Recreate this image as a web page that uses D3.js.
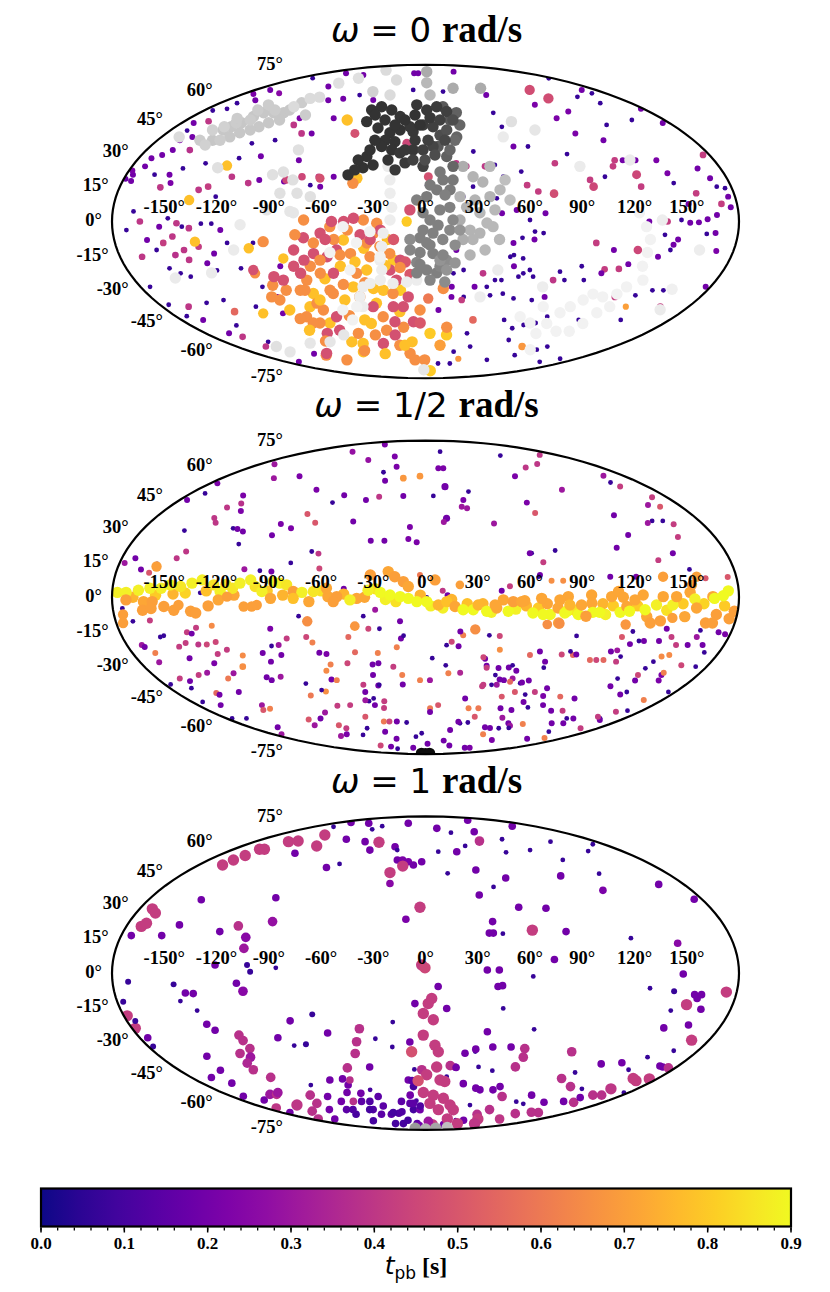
<!DOCTYPE html>
<html><head><meta charset="utf-8">
<script src="https://cdn.jsdelivr.net/npm/d3@7"></script>
<style>body{margin:0;background:#fff}svg{display:block}</style>
</head><body>
<svg id="chart" width="830" height="1292"></svg>
<script>
// ---------------- data ----------------
const omegaLabels = ["0", "1/2", "1"];
const latTicks = [75, 60, 45, 30, 15, 0, -15, -30, -45, -60, -75];
const lonTicks = [-150, -120, -90, -60, -30, 0, 30, 60, 90, 120, 150];
const cbarTicks = [0, 0.1, 0.2, 0.3, 0.4, 0.5, 0.6, 0.7, 0.8, 0.9];
const tMax = 0.9;

// [lon, lat, t_pb, m]  (m: relative marker magnitude)
const p1Points = [
[-140,80,.2,1.5],[-100,78.5,.2,1.5],[-160,76,.07,1],[-110,70,.2,1.5],[-170,65,.22,1.5],[-164,67.6,.2,1.5],[-146,65.4,.25,1.5],[-165,59.3,.07,1],[-154,61,.2,1.5],[-164,56,.08,1],[-173,55,.07,1],[-162,49,.4,1.8],[-171,48,.2,1.5],[-168,44,.07,1],[-159,40.7,.2,1.5],[-165,39,.22,1.5],[-152,34,.38,1.8],[-163,34,.2,1.5],[-167,31.6,.2,1.5],[-172,30,.2,1.5],[-176,22,.2,1.5],[-178,24,.22,1.5],[-175,19,.2,1.5],[-179,20,.18,1.5],[-172,26,.2,1.5],[-163,22,.07,1],[-154,22,.2,1.5],[-151,18,.22,1.5],[-156,16,.4,1.8],[-148,25,.07,1],[-136,27.5,.07,1],[-133,14.8,.4,1.8],[-128,16.3,.42,1.8],[-122,11.6,.07,1],[-116,21,.4,1.8],[-117,30,.07,1],[-104,31,.2,1.5],[-115,37.4,.07,1],[-101,39,.07,1],[-86,42.5,.4,1.8],[-96,47,.4,1.8],[-79,42.5,.2,1.5],[-96,50.6,.22,1.5],[-70,50.6,.2,1.5],[-88,61,.2,1.5],[-76,62,.2,1.5],[-99,19.5,.2,1.5],[-105,18,.4,1.8],[-84,18.7,.2,1.5],[-79,29,.2,1.5],[-64,21,.42,1.8],[-62,16.3,.2,1.5],[-55,21,.2,1.5],[-42,30,.2,1.5],[-68,17,.07,1],
[-168,4.7,.07,1],[-164,0,.4,1.8],[-172,-4,.07,1],[-161,-8.6,.2,1.5],[-167,-16.5,.4,1.8],[-153,-2.4,.2,1.5],[-148,1.5,.07,1],[-143,-0.8,.4,1.8],[-140,-2.4,.07,1],[-136,-3.1,.4,1.8],[-152,-10,.42,1.8],[-157,-13.3,.07,1],[-146,-7,.4,1.8],[-141,-13.3,.4,1.8],[-147,-15.7,.38,1.8],[-140,-18,.4,1.8],[-154,-22,.07,1],[-149,-24.4,.07,1],[-144,-26,.07,1],[-129,-1,.07,1],[-123,-1,.07,1],[-118,-4,.2,1.5],[-115,-10,.07,1],[-124,-15,.2,1.5],[-126,-23,.07,1],[-130,-19.6,.2,1.5],[-132,-11.8,.42,1.8],[-174,-31,.07,1],[-174,-40,.07,1],[-162,-41,.4,1.8],[-147,-39,.07,1],[-172,-46,.07,1],[-164,-48,.2,1.5],[-134,-37.6,.07,1],[-145,-51,.07,1],[-134,-43.6,.55,2.2],[-161,-55.5,.2,1.5],[-155,-57.5,.4,1.8],[-100,-10,.07,1],[-111,-22,.07,1],[-103,-31,.07,1],[-97,-36,.2,1.5],[-116,-41,.07,1],[-141,-60.5,.07,1],[-101,-44.5,.2,1.5],[-152,-63.4,.4,1.8],[-87,-21,.2,1.5],[-163,-73.7,.2,1.5],[-119,-68,.2,1.5],
[1,17,.07,1],[19,27.5,.4,1.8],[25,26,.4,1.8],[22,11.6,.07,1],[28,16.3,.07,1],[36.5,26,.4,1.8],[18,-13.3,.2,1.5],[17,-24.4,.07,1],[23,-22.8,.07,1],[16.6,-31,.2,1.5],[17,-36,.2,1.5],[25,-36,.07,1],[31,-31,.2,1.5],[35,-24.4,.4,1.8],[35,-48,.55,2.2],[34,-55.5,.07,1],[29,-66.7,.07,1],[17,-75,.07,1],[42.5,-63.4,.07,1],[75,-72.3,.07,1],[9,-42.7,.2,1.5],[58,-48,.07,1],[73,-59.4,.07,1],[92,-63.4,.68,2.2],[53,-21,.2,1.5],[59.5,-24.4,.07,1],[47,-27.7,.07,1],[58,-36.8,.07,1],[70.5,-37.6,.07,1],[78,-36,.2,1.5],[79,-27.7,.4,1.8],[81.5,-23.6,.07,1],[51,-10,.2,1.5],[56,-7.6,.07,1],[63,-8.4,.2,1.5],[63,-4.7,.07,1],[68,-5.4,.07,1],[60,0.7,.07,1],[69,3.8,.2,1.5],[52,-15.7,.07,1],[63,-22.8,.07,1],[60,17,.42,1.8],[66,14,.42,1.8],[75,13,.47,2.5],[80,27.5,.42,1.8],[57.5,35.8,.2,1.5],[55,46,.07,1],[54,53.7,.07,1],[59,64.3,.2,1.5],[94,58.3,.22,1.5],[100,50.6,.22,1.5],[115,54.4,.22,1.5],[110,67.6,.47,3],[114,62.2,.47,3],[174,75.9,.07,1],
[144,63.2,.07,1],[165,67.6,.2,1.5],[153,59.3,.07,1],[166,65.4,.07,1],[104,42.5,.22,1.5],[132,47,.07,1],[119.5,39,.2,1.5],[155.5,49.7,.07,1],[178,56,.2,1.5],[175,48,.2,1.5],[90,32,.07,1],[107.5,21,.07,1],[115,26,.42,1.8],[118,29,.42,1.8],[98,19.5,.42,1.8],[99,16.3,.45,2.5],[127,22,.45,2.6],[127,16.3,.42,1.8],[123,29,.2,1.5],[131,29,.2,1.5],[144,29,.22,1.5],[146,22.7,.22,1.5],[147,18,.07,1],[166,25,.2,1.5],[176,31.6,.42,1.8],[170,20.3,.2,1.5],[171.5,16.3,.07,1],[176,15.6,.07,1],[176,11.6,.2,1.5],[176,6.6,.2,1.5],[171,8.2,.42,1.8],[167.5,3,.2,1.5],[158,13.2,.42,1.8],[152,8.2,.2,1.5],[152,-0.6,.2,1.5],[157,-0.4,.2,1.5],[162,1,.2,1.5],[167,-5.4,.2,1.5],[162,-5.8,.07,1],[170,-13.8,.22,1.5],[146,-8.4,.2,1.5],[144,-10.8,.2,1.5],[143,-13.3,.07,1],[137,-16.5,.2,1.5],[138,-6.2,.07,1],[139,0,.42,1.8],[128.5,0,.2,1.5],[124,-13.3,.45,2.5],[110,-13.3,.2,1.5],[99,-10,.42,1.8],[121,-20,.2,1.5],[116.5,-22.3,.42,1.8],[108,-22.5,.42,1.8],[107,-24.4,.2,1.5],[93.6,-21,.07,1],[86,-27.7,.07,1],[98,-27.7,.07,1],[124,-36,.42,1.8],[136.6,-35.2,.07,1],[145,-32.7,.07,1],[152,-32.7,.07,1],[137,-41,.7,1.6],[144,-48,.07,1],[160.6,-41,.42,1.8],[113,-48,.07,1],[88,-46.3,.07,1],[83,-49.7,.07,1],[75,-50.8,.07,1],[68,-52.6,.07,1],[111,-65.4,.07,1],[116,-63.4,.07,1],[160,-71.5,.07,1],[147,-73.7,.07,1],[98,-69,.07,1],[177,-31,.2,1.5],[147,0.7,.07,1],[52.5,5.4,.2,1.5],[44,3.8,.2,1.5],[41.4,10.8,.07,1],[58,23.5,.07,1],[46.6,21,.07,1],[30.7,33.3,.07,1],[42.7,26.7,.07,1],[67,35.8,.07,1],[50,-16.5,.07,1],[57.7,-17.3,.07,1],[66,-26,.07,1],[57,-26,.07,1],[50,-34.4,.07,1],[43,-27.7,.07,1],[38.7,-31,.07,1],[42,-35.2,.07,1],[24,-37.6,.42,1.8],[33,-75,.07,1],[39,-71.5,.68,1.6],
[-20,80,.2,1.5],[-13,80,.2,1.5],[55,81.5,.2,1.5],[18,66.5,.07,1],[-13,67.6,.07,1],[-47.5,61.2,.2,1.5],[-64,64.3,.07,1],
// south-west cluster
[-59,49.7,.78,3.3],[-122,26.4,.78,3],[-137,10,.78,3],[-133.5,-9.4,.78,3],[-103,-12.5,.78,3],[-84,-17.3,.78,3],[-10.8,0,.8,3],[-115,-44.5,.78,3],[-62,-27,.78,3.3],[-47.5,-8.6,.78,3.3],[-36,-12.5,.78,3.3],[-33,-31.8,.78,3.3],[-27,-32.7,.78,3.3],[-16,-32.7,.8,3.3],[-18,-43.6,.78,3.3],[-57,-61.5,.78,3.3],[-64,-66.7,.78,3.3],[-41,-50,.78,3.3],[3.7,-55.5,.8,3.3],[17.5,-56.4,.8,3.3],[9,-81,.8,3.3],[-12,-60.5,.78,3.3],[-72,-49.7,.78,3.3],[-79,-41,.78,3.3],[-72.5,-34.3,.78,3.3],[-51,-21,.78,3.3],[-45.6,-31,.78,3.3],[-35.5,-22.8,.78,3.3],[-33,-39.2,.78,3.3],[-66,-60.5,.78,3.3],[-19,-18,.8,3.3],[-22,-8.4,.78,3.3],[-41,20.3,.78,3.3],
[-43,17.9,.66,3.3],[-70,0.7,.66,3.3],[-65,-10,.66,3.3],[-55,-2.4,.66,3.3],[-53,-8.4,.66,3.3],[-69,-21,.66,3.3],[-73.5,-27.7,.66,3.3],[-64,-24.4,.66,3.3],[-80,-32.7,.66,3.3],[-73,-39.2,.66,3.3],[-86,-46.3,.66,3.3],[-71,-42.7,.66,3.3],[-79.5,-49.7,.66,3.3],[-59.6,-34.3,.66,3.3],[-51.5,-29.8,.66,3.3],[-43,-36,.66,3.3],[-42,-24.4,.66,3.3],[-32.7,-16.5,.66,3.3],[-34,-10,.66,3.3],[-26.5,-11.6,.66,3.3],[-21,-15,.66,3.3],[-44,-15,.66,3.3],[-30,-5.4,.66,3.3],[-45,-4,.66,3.3],[-35.7,0.7,.66,3.3],[-28,-0.8,.66,3.3],[-21,-34.3,.66,3.3],[-30.6,-46.3,.66,3.3],[-17,-52,.66,3.3],[-31,-53.7,.66,3.3],[-24,-62.6,.66,3.3],[-16.4,-67.8,.66,3.3],[-1,-72.3,.66,3.3],[16.5,-52,.66,3.3],[11.3,-31.8,.66,3.3],[1.8,-36.8,.6,3],[-89,-32.7,.66,3.3],[-96,-30.2,.66,3.3],[-100.7,-36,.66,3.3],[-103.7,-24.4,.66,3],[-94,-9.4,.66,3.3],[-109,-69,.66,3.3],[-96,-72.3,.66,3.3],[-84.6,-49.7,.66,3.3],[-55,-55.5,.66,3.3],
[-70.5,-7.6,.48,3.3],[-77,-13.3,.48,3.3],[-72,-18.1,.48,3.3],[-65.7,-15,.48,3.3],[-58,-16.5,.48,3.3],[-52,-13.3,.48,3.3],[-47,0,.48,3.3],[-41.4,1.5,.48,3.3],[-54,0,.48,3.3],[-60.7,-5.4,.48,3.3],[-37.7,-6.2,.48,3.3],[-26,-4,.48,3.3],[-21.4,-22.8,.48,3.3],[-15,-18.1,.48,3.3],[-18.5,-8.4,.5,3.3],[-12,-19,.5,3.3],[-18,-27.7,.48,3.3],[-11.3,-36,.48,3.3],[-15.2,-41,.48,3.3],[-22,-41,.48,3.3],[-9,-49,.48,3.3],[-4,-49.7,.5,3.3],[-79,-21,.48,3.3],[-76,-24.4,.48,3.3],[-104,-22.8,.48,3],[-88,-27.7,.48,3.3],[-93,-26,.48,3.3],[-56,-24.4,.48,3.3],[-64.3,-46.3,.48,3.3],[-80.5,-55.5,.48,3.3],[-35.8,-41,.48,3.3],[-38.5,-61.5,.48,3.3],[-22.8,-49,.48,3.3],[-105,-67.8,.48,3.3],[-9,5.4,.48,3.3],[-12.4,37.4,.45,2.6],[-49,42.5,.48,2.6],[-63,20.3,.48,2.6],[-74,21,.45,2.2],[-83,19.5,.45,2.2],[1.7,21,.48,2.6],
[-75.3,-6.2,.66,3.3],[-58,-8.4,.48,3.3],[-50.3,-15.7,.66,3.3],[-41.9,-19,.78,3.3],[-37.8,-29,.66,3.3],[-53.5,-37.6,.78,3.3],[-61,-32.7,.66,3.3],[-70,-37.6,.78,3.3],[-91.6,-47.3,.66,3.3],[-92.4,-53.7,.78,3.3],[-88.7,-60,.66,3.3],[-68.4,-53.7,.48,3.3],[-54.7,-45.7,.66,3.3],[-44.8,-48,.78,3.3],[-41.7,-56.4,.66,3.3],[-43,-68,.78,3.3],[-25.2,-56.4,.48,3.3],[-19.3,-62.6,.78,3.3],[-12.8,-72.3,.66,3.3],[13.6,-62.6,.7,3.3],[-3.8,-42.7,.66,3.3],[-9.4,-24.9,.5,3.3],[-15.3,-21.6,.66,3.3],[-24.2,-20.6,.78,3.3],[-32,-8.4,.48,3.3],[-62.5,-18.1,.66,3.3],[-77,-32.7,.66,3.3],[-96.6,-37.6,.66,3.3],[-94.4,-42.7,.78,3.3],[-61.7,-66,.66,3.3]
];

// [lon, lat, grey level]  (points shown in grey shades)
const p1Grey = [
[-143,39,.78],[-143,44.3,.78],[-140,46,.78],[-136,48.2,.78],[-133,51.6,.78],[-129,53.7,.78],[-121,53.7,.78],[-113,53.7,.78],[-111,55.3,.78],[-120,46,.78],[-124,44.3,.78],[-116,48.2,.78],[-110,49.7,.78],[-129.5,42.9,.78],[-133.5,40.7,.78],[-138,39,.8],[-150.6,44.3,.82],[-140,48.2,.8],[-123,55.3,.8],[-145,46,.82],[-132,49.7,.8],[-151.5,39,.8],[-145,36.6,.82],[-143.6,50.6,.8],[-137,55.3,.8],[-135,58.3,.8],[-109,59.6,.8],[-94,52.5,.8],
[-168,40.7,.86],[-111,57.2,.86],[-107,62.2,.86],[-100,63,.86],[-106,72.3,.88],[-95,76,.88],[-54,66.5,.82],[-34.5,64.3,.86],[-38.6,74.6,.86],[-87,82.9,.86],
[-82,34.1,.88],[-86,23.3,.88],[-79,19.5,.88],[-92,22,.88],[-85,13.2,.88],[-75,13.2,.88],[-67,11.6,.88],[-76,4.1,.9],[-127,25.3,.88],[-78,4.7,.9],[-91.5,5.4,.9],[-154,-26.7,.92],[-130,-24.2,.92],[-112,-13.3,.92],[-106.5,-1.5,.92],
[123,4.1,.95],[127,-2.4,.95],[130,-8.4,.95],[130,-14.5,.95],[130,-21,.95],[134.6,-27.7,.95],[127,-31,.95],[124,-34.6,.95],[116,-36,.95],[108.5,-34.6,.95],[104.6,-37.6,.95],[99,-41,.95],[95,-44.2,.95],[91.7,-50,.95],[90.7,-55.6,.95],[78.8,-49.7,.95],[68.4,-46.3,.95],[80.5,-41,.95],[105,-54.3,.95],[115.6,-54.3,.95],[119,-50,.95],[121,-44.2,.95],[126,-41,.95],[157,-32.2,.94],[163,-42.6,.92],[136,0.7,.93],[160,-13.3,.93],[127.6,29.1,.92],[94.7,26,.92],[64,48.8,.88],[77.4,44.3,.9],[53,40.7,.92],[43.7,-22.8,.92],[74,-31,.93],[104.5,-65.4,.95],[35.7,-36,.93],
[-142,-63.4,.88],[-140,-66.8,.9],[-105,-61.3,.9],[-85.5,-60.5,.9],[-68,-56.4,.9],[-3,-80,.9],
[-23,26,.92],[-21.2,19.5,.93],[-20.7,13.2,.93],[-19.5,6.6,.93],[-20.4,0.7,.93],[-24.4,-5.4,.93],[-25.5,-11.6,.93],[-27,-18.1,.93],[-26.4,-22.8,.93],[-28,-27.7,.93],[-34.7,-29.3,.93],[-39.5,-31,.93],[-43,-36,.93],[-42.8,-41,.93],[-20.3,-29.3,.93],[-11.7,-28.6,.93],[-5.4,-27.7,.93],
[-32,-4.7,.95],[-40,-9.9,.95],[-26.8,-16.5,.95],[-45.5,-22.8,.95],[-57.5,-42.7,.95],[-47,-41,.95],[-53.7,-48,.95],[-56,-14.5,.95],[-47.4,-2.4,.95],
[23,26,.68],[28.5,21,.7],[34,18.5,.7],[37.5,11.6,.7],[31.3,4.1,.72],[35.3,-0.7,.72],[31.3,-5.4,.7],[27.4,-8.4,.7],[21.7,-8.4,.68],[19.8,0.7,.68],[23.7,6.6,.7],[20.1,11.6,.7],[38.8,-2.4,.72],[43.7,14.8,.72],[39.5,26,.72],[2.4,81.5,.67],[1.5,72.6,.72],[4.4,64.3,.72],[30,68.7,.67],[60,68.7,.67],[25.6,-4,.7],[40,5.4,.72],[42.8,-8.4,.72],[34.8,-13.3,.72],[26.2,-15.7,.7],[28.7,10,.7],[47.4,19.5,.75],[49,10,.75],
[10.4,19.5,.47],[6.6,14.8,.48],[0.7,11.6,.48],[-5.1,10,.5],[-1.4,4.1,.5],[2.6,0.7,.5],[-1.4,-4,.5],[4.3,-5.4,.5],[0.7,-9.9,.5],[-3.2,-14.5,.5],[-5.2,-19.2,.52],[0.7,-22.8,.5],[6.8,-24.2,.5],[8.7,-21,.52],[12.5,-18.1,.55],[-5.3,-24.2,.5],[-9,-13.3,.52],[4.4,-15,.5],[10,-8.4,.52],[14,-4,.53],[15.8,0.7,.53],[14,6.6,.5],[14.4,14.8,.48],[16.4,19.5,.47],[8.8,23.3,.47],[8.6,-18.1,.58],[12.8,-22.8,.58],
[2.7,17.1,.48],[11.4,12.4,.5],[8.3,5.4,.5],[2.6,-11,.5],[10.3,-15.7,.52],[-3.3,-20.2,.5],[2.8,-27.7,.52],[12,-28.6,.55],[17.6,-19.4,.58],[17.2,-11,.55],[19.8,-4,.58],[7.2,-1.7,.5],[-3.2,-7.6,.5],[-9,-8.4,.55],
[14.7,57.2,.35],[24.6,53.8,.38],[25,47,.4],[21.3,40.7,.4],[8.2,35.8,.35],[13.4,30.8,.38],[16.9,26,.4],[15.8,34.1,.4],[19.8,39,.42],[18.5,49.7,.35],
[-44,55.3,.2],[-37,57.2,.2],[-27.6,55.3,.2],[-19.6,51.6,.21],[-7.5,58.3,.22],[1,55.3,.22],[9.4,57.2,.23],[17,54.4,.25],[20.7,49.7,.3],[-43.8,48.8,.2],[-34,45.4,.2],[-24.8,42.9,.2],[-27,39,.2],[-20.4,38.2,.2],[-28.7,35.8,.2],[-21.8,34.1,.2],[-16.3,32.6,.22],[-37,30.8,.2],[-32.3,26.7,.2],[-38.2,25.3,.2],[-46.6,21.9,.2],[-12.7,27.7,.22],[-8,34.1,.22],[-1.6,34.1,.25],[4.9,35.8,.27],[-1.5,26,.25],[-8.7,43.4,.22],[-1.8,47,.23],[5.4,46,.25],[1.7,39,.25],[10,41.6,.3],[15,44.3,.32],[-11.2,46,.22],[-18,44.3,.2],
[-39.4,52.5,.2],[-30.5,49.7,.2],[-22.2,47,.2],[-15.5,49.7,.2],[-8.2,52.5,.2],[-4,47,.2],[3.5,51,.22],[10.9,49.7,.25],[13.1,39,.28],[6,31.6,.3],[-0.3,29.1,.3],[-7,39,.22],[-13.2,34.1,.22],[-34,39,.2],[-35.8,34.1,.2],[-42,29.1,.2],[-43,24.3,.2],[-23.4,29.1,.2],[-18.5,24.3,.22],[-7.8,29.1,.25]
];

const p2Points = [
[-106,84.5,.22,1.5],[-113,77.8,.28,1.5],[-68,71.5,.28,1.5],[-40,74,.22,1.5],[22.6,77.8,.07,1],[-40,63.4,.07,1],[-30,67,.22,1.5],[-34.7,58.2,.2,1.5],[-19.6,59.8,.68,1.8],[-5,61,.68,1.8],[13,66,.22,1.5],[18,66,.22,1.5],[15.8,54.8,.2,2],[5.9,49.6,.07,1],[-16.7,49.6,.2,1.5],[-34.7,49.2,.4,1.5],[-43.6,47.4,.2,1.5],[-61.5,50,.2,1.5],[-67,46,.07,1],[-86,53,.22,1.5],[-114,61,.22,1.5],[-164,68.6,.3,1.5],[-134,59.8,.3,1.5],[-174,56.7,.22,1.5],[-169,51,.07,1],[-174.6,47.4,.2,1.5],[-137.6,49.8,.22,1.5],[-139,43.4,.4,1.5],[-132,45.5,.38,1.5],[-127,41.6,.22,1.5],[-80,40,.5,1.5],[-72,35.6,.5,1.5],[-94,35,.22,1.5],[-86,32.8,.22,1.5],[-140.6,38,.4,1.5],[-137,35.6,.4,1.5],[-123,32.8,.07,1],[-120,32.5,.2,1.5],[-115.5,31.2,.2,1.5],[-114,25.1,.07,1],[-96,29.4,.2,1.5],[-153,31.7,.07,1],[-143.7,21.5,.4,1.5],[-147.5,18.3,.4,1.5],[-157.7,15.6,.07,1],[-166,13,.2,1.5],[-172,18.3,.2,1.5],[-177,16,.3,1.5],[-160.7,11.5,.5,1.5],[-68.3,21.5,.07,1],[-64,20.5,.4,1.5],[-62,13.5,.45,1.5],[-79.3,16.1,.07,1],[-96.5,12.4,.07,1],[-89.7,12,.2,1.5],[-105.7,13.1,.3,1.5],[-33.7,26.7,.2,1.5],[-25.3,26.7,.2,1.5],[-10.6,27.5,.22,1.5],[-5.4,26,.22,1.5],[-10,33.4,.22,1.5],[14,37.8,.2,2],[12,36,.3,1.5],[25.5,43.8,.3,1.5],[29,43,.3,1.5],[27.7,47.4,.22,1.5],[33.4,52,.07,1],[44.6,35.2,.3,1.5],[100.7,74.8,.07,1],[81,61,.22,1.5],[102.5,66.4,.4,1.5],[122,68.8,.4,1.5],[157,75.3,.4,1.5],[73,46,.22,1.5],[74.7,40.6,.5,1.5],[107.6,53,.3,1.5],[63.5,20.7,.07,1],[69.4,16.4,.42,1.5],[78,22,.07,1],[72.8,7.7,.66,1.5],[79.5,7.7,.66,1.5],[66.4,10.4,.2,1.5],[48.6,5.1,.42,1.5],[43.8,3,.2,1.5],[9.9,3,.4,1.5],[12.7,1,.2,1.5],[-3.2,10.4,.6,1.5],[0.7,0,.07,1],[-47,4,.2,1.5],[-129.4,2.1,.07,1],[-174.5,-5.2,.07,1],
[162,61.3,.3,1.5],[156,57.2,.07,1],[158,54.9,.42,1.5],[169,48.9,.42,1.5],[158,44.7,.3,1.5],[165,43.8,.5,1.5],[149,36.5,.07,1],[156,36.5,.07,1],[145,35.5,.3,1.5],[161,34.8,.42,1.5],[157,28.5,.42,1.5],[148,20.7,.2,1.5],[137.6,17.4,.42,1.5],[154,13,.07,1],[162,8.9,.5,1.5],[175,9.5,.5,1.5],[126.8,29.5,.2,1.5],[115.7,23.3,.2,1.5],[127,39.4,.2,1.5],[122,9.6,.22,1.5],[107,9.6,.2,1.5],[62.4,20.7,.2,1.5],[65.6,9.6,.07,1],[-47.4,36.2,.2,1.5],
[-170,-11.2,.07,1],[-160,-10.8,.42,1.5],[-171,-22.4,.3,1.5],[-170,-23.4,.2,1.5],[-157.4,-18.6,.07,1],[-155,-18,.07,1],[-166,-26.3,.62,1.5],[-168,-30.8,.3,1.5],[-149,-23.2,.42,1.5],[-140.5,-16.3,.42,1.5],[-138,-17,.2,1.5],[-134.3,-14.2,.42,1.5],[-144,-21.5,.42,1.5],[-136.8,-22.2,.4,1.5],[-131.7,-22.2,.45,1.5],[-125.7,-21,.45,1.5],[-124.8,-13.3,.65,1.5],[-147,-28.8,.2,1.5],[-165,-39,.42,1.5],[-176,-42,.07,1],[-165,-44,.07,1],[-160,-40.3,.2,1.5],[-150,-37.2,.42,1.5],[-143,-36,.3,1.5],[-128,-26.8,.42,1.5],[-133.7,-31.3,.22,1.5],[-121,-24.7,.42,1.5],[-126,-36.3,.3,1.5],[-132.5,-39,.6,1.5],[-113,-27.5,.65,1.5],[-117,-33,.66,1.8],[-151.6,-46.5,.55,1.5],[-151,-47.5,.2,1.5],[-171.8,-51.4,.07,1],[-162,-53.2,.2,1.5],[-175,-61,.07,1],[-134.5,-46,.2,1.5],[-162,-61,.07,1],[-129.4,-53.2,.3,1.5],[-134,-56,.5,1.5],[-127,-55.3,.62,1.5],[-151.6,-66.5,.2,1.5],[-170,-71.3,.3,1.5],[-104,-39.8,.2,1.5],[-106,-38.3,.2,1.5],[-97.3,-30.5,.2,1.5],[-100,-26.3,.2,1.5],[-91,-14.7,.22,1.5],[-93,-22.9,.07,1],[-88.5,-22.4,.3,1.5],[-96.5,-38.1,.3,1.5],[-82.6,-19.3,.42,1.5],[-89,-27.2,.2,1.5],[-73.4,-8.8,.07,1],[-70.8,-18.6,.45,1.5],[-67.8,-21.2,.62,1.5],[-65.2,-26.2,.2,1.5],[-61,-26.8,.22,1.5],[-60.3,-31.9,.62,1.5],[-64.4,-35,.65,1.5],[-71.6,-45.8,.66,1.5],[-74,-45,.07,1],[-63.4,-39.5,.2,1.5],[-82.3,-41.6,.07,1],[-84.5,-47.9,.6,1.5],[-107,-61.6,.5,1.5],[-110,-65.2,.3,1.5],[-95,-61,.2,1.5],[-85,-57.4,.3,1.5],[-86,-65.2,.5,1.5],[-104,-72.5,.3,1.5],[-82.7,-67.2,.42,1.5],[-59.6,-53.2,.42,1.5],[-70,-53.5,.42,1.5],[-43.4,-46,.2,1.5],[-43.3,-51,.07,1],[-53.4,-60,.5,1.5],[-61,-67.2,.07,1],[-40,-53.2,.2,1.5],[-33.6,-54.8,.42,1.5],[-39.2,-62.9,.6,1.5],[-34,-62.9,.45,1.5],[-27,-62.9,.2,1.5],[-18,-63.5,.07,1],[-33.5,-14.7,.45,1.5],[-33.6,-31.9,.2,1.5],[-34.7,-37.2,.2,1.5],[-29.3,-26.3,.62,1.5],[-27,-14.7,.07,1],[-32.8,-42.6,.2,1.5],[-20.6,-33,.42,1.5],[-17.4,-23.5,.62,1.5],[-14.6,-19.3,.2,1.5],[-14.8,-11.2,.2,1.5],[-13,-18,.07,1],[-15.4,-37.2,.62,1.5],[-15.7,-42,.2,1.5],[4.2,-28.8,.07,1],[12.9,-32.3,.07,1],[3,-39.8,.3,1.5],[-3.7,-39.8,.62,1.5],[10,-53.2,.5,1.5],[3.7,-55,.6,1.5],[15,-36.3,.62,1.5],[22.7,-36,.35,1.5],[15.7,-20.9,.45,1.5],[12.7,-22.5,.07,1],[22.3,-17.8,.62,1.5],[20,-23,.2,1.5],[37.2,-29.1,.2,1.5],[39,-32.5,.2,1.5],[40,-42.2,.42,1.5],[49.3,-42.2,.3,1.5],[46.2,-37.2,.07,1],[53,-39.8,.2,1.5],[58.5,-39,.3,1.5],[65,-41.4,.07,1],[70,-40,.2,1.5],[75.6,-51.4,.2,1.5],[64.4,-46,.5,1.5],[56.6,-48.5,.5,1.5],[61,-55,.2,1.5],[69,-60.6,.3,1.5],[76.5,-67.2,.07,1],[67,-67,.2,1.5],[68,-71.3,.62,1.5],[35,-55,.62,1.5],[43,-55,.6,1.5],[43.7,-60,.5,1.5],[33.3,-64,.07,1],[26.5,-68.3,.2,1.5],[25.8,-76,.2,1.5],[42,-80,.2,1.5],[80,-82,.2,1.5],[90,-82,.22,1.5],[3.3,-78.6,.2,1.5],[-25,-82,.2,1.5],[-62,-83,.07,1],[-79,-80,.45,1.5],[-65,-81,.2,1.5],[-93,-71.3,.22,1.5],[-75,-71.8,.07,1],[-38.6,-74.6,.2,1.5],[-45,-69.5,.2,1.5],[-12,-73,.07,1],
[-45.8,-18.6,.55,1.5],[-36,-8.8,.07,1],[-29,-5.8,.3,1.5],[-29.8,-31.3,.2,1.5],[-43.2,-25.9,.55,1.5],[-49.4,-31.3,.45,1.5],[-60,-39.8,.62,1.5],[-43,-42.2,.42,1.5],[-32,-42.2,.07,1],[-39,-49.5,.07,1],[-45.8,-50.5,.3,1.5],[-31.6,-51,.42,1.5],[-4.4,-70.6,.07,1],[3.8,-57.1,.2,1.5],[20.5,-16,.2,1.5],[37.8,-17.8,.07,1],[44,-18.1,.45,1.5],[45.3,-24.7,.66,1.5],[36,-28.3,.45,1.5],[39.3,-33.5,.42,1.5],[47,-33.7,.2,1.5],[53.5,-33.4,.2,1.5],[55.5,-32.3,.07,1],[50,-39.5,.2,1.5],[45.7,-42.2,.07,1],[39.5,-43,.42,1.5],[57.6,-40.6,.55,1.5],[59,-35,.2,1.5],[66,-41,.2,1.5],[73,-47.4,.07,1],[64.5,-27.2,.55,1.5],[70,-25.5,.2,1.5],[75.3,-30.5,.2,1.5],[76,-33.5,.07,1],[78.8,-46,.42,1.5],[87,-48.2,.22,1.5],[93,-53.2,.2,1.5],[82.6,-54.5,.07,1],[71,-56,.2,1.5],[80,-64,.2,1.5],[95,-64.5,.62,1.5],[84.5,-65.5,.3,1.5],[135.6,-74.6,.2,1.5],[155,-74,.62,1.5],[137.5,-69.5,.07,1],[121.8,-64,.2,1.5],[133,-64,.2,1.5],[133.8,-61,.2,1.5],[127.8,-61,.07,1],[162,-67.2,.42,1.5],[158,-61,.07,1],[161,-62,.2,1.5],[153,-60,.42,1.5],[104.5,-56.4,.2,1.5],[114,-56.4,.42,1.5],[112,-49.5,.2,1.5],[100,-48.5,.55,1.5],[85.7,-44,.2,1.5],[91,-27.2,.55,1.5],[93,-27,.2,1.5],[88.7,-25.5,.07,1],[84,-27,.45,1.5],[89.5,-18.1,.07,1],[103,-29.7,.55,1.5],[107,-29.7,.45,1.5],[111.5,-29.7,.55,1.5],[113.5,-25.6,.2,1.5],[117,-25,.3,1.5],[121,-28,.07,1],[120,-30.5,.42,1.5],[129,-39,.07,1],[129,-43,.2,1.5],[142.6,-47.4,.2,1.5],[145,-46,.07,1],[168,-56.4,.07,1],[160,-57,.42,1.5],[166,-50.4,.62,1.5],[140.5,-37.2,.45,1.5],[142,-40,.2,1.5],[141.6,-33.8,.07,1],[143.5,-30.5,.07,1],[156,-37.2,.22,1.5],[158,-40,.22,1.5],[156,-36,.62,1.5],[146.4,-28,.65,1.5],[150.5,-27.2,.65,1.5],[175,-46,.07,1],[163,-32.3,.45,1.5],[173,-33,.07,1],[158,-22.4,.2,1.5],[151,-22.4,.42,1.5],[167,-22.4,.2,1.5],[161,-18.6,.3,1.5],[171,-26,.07,1],[172.6,-16.3,.2,1.5],[177,-17.3,.22,1.5],[172,-4.3,.2,1.5],[161.5,-15.5,.07,1],[141.4,-14.7,.2,1.5],[146,-18.6,.42,1.5],[139.6,-20.5,.2,1.5],[130.6,-20.5,.2,1.5],[127.6,-20.5,.07,1],[122,-16,.07,1],[123,-22,.2,1.5],[116.6,-18.6,.5,1.5],[29.8,-49.5,.2,1.5],[31,-63,.2,1.5],[40.4,-63.5,.07,1],[61,-66.5,.2,1.5],[92,-75.5,.22,1.5],[86.5,-67,.07,1],
// equatorial band
[-168,0,.75,3.3],[-162,-2,.72,3.3],[-155,1,.8,3.3],[-145,1.5,.75,3.3],[-138,2,.82,3.3],[-126,3,.78,3.3],[-115,6,.85,3.3],[-110,1,.72,3.3],[-98,5,.85,3.3],[-91,3,.8,3.3],[-82,1,.75,3.3],[-67,-2,.72,3.3],[-60,3,.85,3.3],[-47,1.5,.75,3.3],[-35,0,.72,3.3],[-29,4,.85,3.3],[-23,-1,.88,3.3],[-17,-2,.85,3.3],[-3,1,.75,3.3],[3,-4,.88,3.3],[10,-5,.88,3.3],[15,-1,.75,3.3],[24,-3,.78,3.3],[33,-3,.75,3.3],[38,-7,.88,3.3],[52,-5.5,.88,3.3],[58,-4,.75,3.3],[65,-5,.8,3.3],[70,-3,.72,3.3],[86,-6,.85,3.3],[102,-3,.75,3.3],[104,-8,.88,3.3],[108,-4,.8,3.3],[122,-4,.8,3.3],[128,-9,.72,3.3],[139,-6,.85,3.3],[148,-3,.8,3.3],[150,-9,.72,3.3],[160,-3,.82,3.3],[172,-4,.8,3.3],[176,-10,.7,3.3],[-125,-4,.7,3.3],[-145,-6,.7,3.3],[-163,-6,.7,3.3],
[-177,2.3,.88,3.3],[-172,2.3,.88,3.3],[-172,-1.2,.7,3.3],[-165,3.3,.88,3.3],[-158.5,4.2,.88,3.3],[-152,4.2,.88,3.3],[-147,5.8,.88,3.3],[-141,5,.86,3.3],[-134.6,6.6,.88,3.3],[-129,8.1,.88,3.3],[-122,5.8,.86,3.3],[-118,2.7,.88,3.3],[-111,4.2,.86,3.3],[-107,6.6,.88,3.3],[-101,8.1,.88,3.3],[-94,2.7,.88,3.3],[-88,7.4,.88,3.3],[-84,6.6,.88,3.3],[-80,5.8,.86,3.3],[-76,2.7,.7,3.3],[-71,2.3,.88,3.3],[-64.4,2.7,.86,3.3],[-56,0.3,.72,3.3],[-51,0.3,.7,3.3],[-39.5,-0.5,.72,3.3],[-32,10.4,.7,3.3],[-33,3.3,.88,3.3],[-26,2.3,.9,3.3],[-21.7,12,.72,3.3],[-17.8,9.6,.7,3.3],[-20.4,1.1,.9,3.3],[-14.6,0.3,.9,3.3],[-9.9,-0.5,.9,3.3],[-12.8,7.3,.7,3.3],[-9.9,5,.72,3.3],[-5,-2,.9,3.3],[0.7,-2,.9,3.3],[5.5,8.1,.7,3.3],[7.4,-3.6,.75,3.3],[12.2,-2,.78,3.3],[17,-4.3,.72,3.3],[21.7,-5.8,.9,3.3],[27.5,-5.8,.9,3.3],[30.3,-3.6,.75,3.3],[35.3,-6.5,.9,3.3],[41,-5,.72,3.3],[47.7,-6.5,.9,3.3],[44.7,-1.2,.72,3.3],[50.4,-2,.7,3.3],[57,-1.6,.72,3.3],[62,-7.3,.9,3.3],[66.7,-0.5,.72,3.3],[72,-8,.9,3.3],[76.3,-5,.72,3.3],[77.5,-12,.7,3.3],[81.5,-6.5,.9,3.3],[82,0.3,.72,3.3],
[-157.5,14.4,.7,3],[-174.7,-8,.7,3],[-176,-12,.7,3],[-157,-2,.7,3.3],[-158,-5.2,.7,3.3],[-150.5,-4.3,.7,3.3],[-142,-3.6,.7,3],[-135.4,-6.5,.7,3.3],[-132.6,-7.3,.7,3.3],[-119,-1.2,.72,3.3],[-114,0.3,.7,3],[-104.6,-4.3,.7,3],[-100,-4.3,.7,3],[-97,-3.6,.7,3],[-89,-0.5,.72,3.3],[-76,-0.5,.78,3.3],[-68.7,-11.2,.66,3],[-57,4.2,.72,3.3],[-53,-2,.7,3.3],[-43.4,-1.2,.88,3.3],[-41.3,-13.5,.68,2.8],[29.2,-15,.66,3],
[19.8,5.8,.7,2.5],[40,-3.6,.72,3.3],[55.3,-2,.72,3.3],[68,-8,.9,3.3],[77.2,-1.2,.72,3.3],[80.4,-7.3,.9,3.3],[83,-3.6,.75,3.3],[88.3,-8,.9,3.3],[89.7,-3.6,.72,3.3],[95.4,1.1,.72,3.3],[95.6,-2.8,.72,3.3],[96.5,-7,.9,3.3],[92.8,-8.8,.7,3.3],[100.4,-7,.9,3.3],[106.9,0.3,.72,3.3],[112.3,-7,.9,3.3],[110.9,2.7,.72,3.3],[113.6,0,.72,3.3],[115.8,-4.3,.72,3.3],[117.6,-6.5,.9,3.3],[116.7,-12.7,.68,3],[120.3,-1.2,.72,3.3],[126.5,-5.8,.9,3.3],[125,1.1,.72,3.3],[130.8,-12,.7,3.3],[132.8,-3.6,.88,3.3],[136.4,-11,.7,3.3],[136.5,0.3,.72,3.3],[137.6,9.6,.7,3],[142.2,-3.6,.88,3.3],[144.2,0.3,.72,3.3],[143,-9.6,.7,3],[152,2.3,.72,3.3],[154.7,-0.8,.88,3.3],[157,9.6,.7,3],[156,-5,.72,3.3],[165,0.3,.72,3.3],[166,-0.5,.9,3.3],[171,0.7,.9,3.3],[174,3,.9,3.3],[168,-8,.7,3.3],[163,-12,.7,3.3],[167,-12,.7,3.3],[178,-6.5,.7,3.3],[153.5,5.8,.7,3],[71,-12.7,.66,2.8],[78,-12.3,.66,3]
];
const p2Grey = [[-25,-88.5,.05],[0,-89,.05],[25,-88.5,.05]];

const p3Points = [
[-161,53.4,.42,3.3],[-159.5,56.3,.42,3.3],[-156.7,58.9,.42,3.3],[-155.6,62.7,.42,3.3],[-151,62.7,.42,3.3],[-144.7,67.6,.42,3.3],[-136,68,.42,3.3],[-107,64.8,.42,3.3],[-122.6,72.2,.42,3.3],[-116.5,60.3,.2,2.2],[-77,52,.2,2.2],[-68.8,54,.07,1],[-148,78.5,.07,1],[-87.5,69.2,.2,2.2],[-157,82.4,.2,2.2],[-63.8,67.6,.2,2.2],[-51.6,62.2,.2,2.2],[-112,81.6,.2,2.2],[-77,76.4,.07,1],[-48.6,67.2,.42,3.3],[-71.7,79,.07,1],[-29.6,64.3,.2,2.2],[-26.2,62.2,.07,1],[-34,81.6,.2,2.2],[-23.4,56.3,.2,2.2],[-19,56.3,.22,2.2],[-14,55.3,.22,2.2],[-9.6,53.4,.2,2.2],[-17.9,52.8,.42,3.3],[-26.6,49.2,.42,3.3],[-24.9,43.4,.25,2.2],[-3.1,55.3,.2,2.2],[17,77.2,.2,2.2],[11.6,61.2,.07,1],[33,73.9,.07,1],[28.4,61.2,.2,2.2],[39,64.8,.07,1],[110,84.5,.2,2.2],[65,74.6,.2,2.2],[57.6,68,.38,2.8],[38.4,50.6,.2,2.2],[16.5,48.8,.07,1],[-3.5,31.3,.42,3.3],[-12,25.4,.22,2.2],[35.6,37.4,.2,2.2],[46.8,41.6,.07,1],[40.8,24.3,.2,2.2],[37.9,18.8,.2,2.2],[40.3,18.8,.2,2.2],[45.9,18.5,.07,1],[72.6,60.8,.07,1],[58,46.3,.2,2.2],[84.6,69.2,.07,1],[143.6,79,.2,2.2],[59,31.3,.2,2.2],[97,62.2,.07,1],[63.8,20.2,.42,3.3],[76,30.8,.2,2.2],[132,67.6,.07,1],[114,56.3,.07,1],[99,47.4,.2,2.2],[83.7,19.5,.2,2.2],[74.3,6.4,.2,2.2],[61.9,-1.5,.07,1],[35.5,1.5,.2,2.2],[42.4,1.5,.2,2.2],[41.8,-6.2,.2,2.2],[44.4,-5.8,.2,2.2],[45.8,-16.5,.07,1],[38.3,-27.7,.2,2.2],[43.8,-35.2,.2,2.2],[55.7,-35.2,.2,2.2],[65,-36,.38,2.8],[66.5,-40.4,.38,2.8],[64.4,-45.5,.38,2.8],[66.8,-26.5,.07,1],[97,-37.6,.38,2.8],[105.5,-51.8,.38,2.8],[120.6,-56.4,.38,2.8],[137.8,-65.4,.2,2.2],[150,-66,.38,2.8],[120,-66,.2,2.2],[97,-61.5,.2,2.2],[142,-73.1,.38,2.8],[131.7,-72.8,.38,2.8],[116,-73.8,.38,2.8],[101.6,-67,.07,1],[91,-65.6,.07,1],[62,-56.4,.2,2.2],[71.2,-62.3,.38,2.8],[74.6,-70.9,.38,2.8],[116,-78,.4,2.8],[46.8,-58.3,.2,2.2],[68,-74.3,.38,2.8],[47.2,-67.8,.07,1],[30.6,-54.7,.2,2.2],[21.2,-45.5,.2,2.2],[17.6,-44.8,.38,2.8],[26.4,-38.4,.2,2.2],[33,-37.5,.07,1],[16.2,-50.8,.07,1],[38,-45.5,.07,1],[49,-47.5,.07,1],[42.5,-57.3,.2,2.2],
[-172,30.5,.42,3.3],[-168,28.5,.42,3.3],[-171,22,.42,3.3],[-169,23.5,.42,3.3],[-174,17.6,.2,2.2],[-156,17.6,.2,2.2],[-148.5,22.7,.2,2.2],[-145.7,35,.2,2.2],[-122.5,19.5,.2,2.2],[-112.7,22.2,.38,2.8],[-106,16.8,.25,2.8],[-105.6,11.6,.3,2.8],[-93,24.3,.28,2.8],[-98,36,.2,2.2],[-121,3.8,.2,2.2],[-102.6,3.8,.07,1.5],[-100.7,0.7,.07,1.5],[-86,2.5,.07,1],[-108.8,-4.7,.2,2.2],[-105.5,-8.4,.25,2.8],[-171,-4,.07,1.5],[-176.5,-13.3,.07,1.5],[-178,-20,.42,3.3],[-178,-26,.42,3.3],[-175,-22.5,.07,1.5],[-175,-30.6,.2,2.2],[-177,-35,.07,1.5],[-145,-5.2,.07,1.5],[-143,-13,.07,1],[-139,-9.2,.2,2.2],[-134.5,-9.5,.2,2.2],[-135,-17.5,.07,1],[-132.8,-24,.2,2.2],[-129.7,-26.9,.2,2.2],[-148,-39.9,.2,2.2],[-164.6,-51.2,.2,2.2],[-150,-47.3,.2,2.2],[-156,-54.4,.2,2.2],[-169,-62.2,.2,2.2],[-157.5,-64.5,.2,2.2],[-140.7,-61,.3,2.8],[-134.7,-61,.38,2.8],[-131,-60,.3,2.8],[-119,-51.2,.38,2.8],[-116.6,-29.3,.38,2.8],[-116,-32,.38,2.8],[-115,-36,.38,2.8],[-119,-40.4,.3,2.8],[-124,-38.5,.38,2.8],[-125,-43.5,.35,2.8],[-125.5,-47,.38,2.8],[-81.6,-22.4,.2,2.2],[-67.4,-19.3,.07,1.5],[-77,-33.8,.07,1.5],[-85,-34.5,.07,1],[-93,-30.6,.2,2.2],[-60.8,-28.3,.2,2.2],[-44,-32.6,.38,2.8],[-40.6,-26.2,.38,2.8],[-47,-38.5,.38,2.8],[-56.3,-46,.38,2.8],[-40,-45.5,.2,2.2],[-31.7,-31.1,.07,1],[-19.8,-23,.07,1],[-10,-32.7,.2,2.2],[-21.6,-35.2,.07,1],[-63.4,-55.5,.2,2.2],[-94,-55.5,.07,1],[-8.1,-46.8,.07,1],
[149,61.6,.07,1],[169,65.9,.07,1],[129,48.6,.07,1],[120,39.8,.22,2.2],[162.5,42.9,.2,2.2],[175,35.3,.2,2.2],[33,-36.3,.2,2.2],[22,-45.8,.2,2.2],[111,-48.5,.07,1],[133,-57.7,.07,1],[146,-63,.2,2.2],[153,-61.5,.38,2.8],[161,-61.5,.38,2.8],[157.7,-57.7,.4,3.3],[123.7,-43.9,.2,2.2],[137.4,-43.3,.2,2.2],[148,-47,.07,1],[161,-51.8,.42,3.3],[166,-53,.42,3.3],[174,-52,.42,3.3],[176,-60,.07,1],[151,-40.4,.07,1],[167,-45,.2,2.2],[170,-45.5,.2,2.2],[175,-46,.38,2.8],[164,-37.1,.07,1],[146,-25.8,.2,2.2],[160,-24.4,.2,2.2],[169,-31.8,.42,3.3],[153,-14.7,.42,3.3],[158,-11.8,.2,2.2],[162.5,-16.9,.2,2.2],[156,-10,.2,2.2],[160,-10,.2,2.2],[174,-8.8,.42,3.3],[145,-17.5,.07,1],[143.7,-8.4,.07,1.5],[129.5,-7,.07,1],[148,-0.4,.2,2.2],[147.5,14,.25,2.2],[121,16.4,.07,1],[58,-58.3,.2,2.2],
[-63.8,-65.4,.15,2.2],[-55.5,-65.4,.12,2.2],[-44,-62.3,.15,2.2],[-45.6,-68.4,.15,2.2],[-61,-70.9,.12,2.2],[-58,-74.3,.15,2.2],[-45,-74.3,.15,2.2],[-34,-73.5,.12,2.2],[-61,-82,.1,2.2],[-45,-82,.1,2.2],[-29,-79,.1,2.2],[-17,-82,.15,2.2],[-14,-70.9,.1,2.2],[-16,-66.7,.15,2.2],[-9,-65,.1,1],[-10,-56.4,.1,2.2],[-13.5,-52.6,.2,2.2],[-6.4,-71,.2,2.2],[-24,-65.4,.15,2.2],[-91.5,-74.3,.1,2.2],[-72,-65.4,.38,2.2],[-92,-70.9,.15,2.2],[-84,-65.4,.2,2.2],[-69.5,-59.9,.2,2.2],[-57.8,-60.4,.2,2.2],[-47.6,-58.3,.1,1],[-59.3,-52.6,.38,2.2],[-64.5,-52,.2,2.2],[-75,-52.6,.2,2.2],[-91,-62.3,.2,2.2],[-112,-70.9,.2,2.2],[-137,-72,.38,2.8],[-112,-66.7,.38,2.8],[-105.4,-61.5,.38,2.8],[-136.5,-67.8,.4,3.3],[-170,-73,.2,2.2],[-168,-69.8,.4,2.8],[-142,-78,.2,2.2],[-168,-78,.38,2.8],[-89,-79.5,.1,2.2],[-84.5,-70.9,.12,2.2],[-65,-70.9,.1,2.2],[-40.6,-73.1,.1,2.2],[-29,-72.5,.12,2.2],[-12.6,-66.7,.15,2.2],[-5.7,-68.5,.12,2.2],[-14,-61.5,.2,2.2],[-10.6,-53,.15,2.2],[-2.7,-47,.38,2.8],[82,-78,.42,3.3],[63,-79,.2,2.2],[50,-79,.1,1],[40,-83,.2,2.2],[-15,-84,.2,2.2],
[-1.4,-29.3,.42,3.3],[4.7,-21.9,.42,3.3],[-1.3,-18.9,.42,3.3],[1.6,-14.2,.42,3.3],[3.6,-11.8,.42,3.3],[-6.2,-14.2,.2,2.2],[7.3,-6.2,.2,2.2],[12.5,-16.5,.2,2.2],[-2.2,3.8,.42,3.3],[-0.3,2.5,.45,3.3],[6.1,-34.3,.42,3.3],[8.5,-37.6,.42,3.3],[-9.2,-37.6,.48,3.3],[8,-45.5,.42,3.3],[0.9,-49.7,.42,3.3],[11.4,-52.6,.42,3.3],[15.3,-53.5,.42,3.3],[-5.8,-53,.48,3.3],[-1.9,-59.9,.42,3.3],[7.1,-61.5,.42,3.3],[4.6,-66.7,.42,3.3],[17,-63.4,.42,3.3],[26,-67.8,.42,3.3],[15,-70.9,.42,3.3],[32.5,-71,.42,3.3],[34,-77.9,.42,3.3],[65,-82,.42,3.3],[15,-83,.42,3.3],[100,-82,.4,3.3],[5,-80,.3,2.8]
];
const p3Grey = [[-40,-87,.6],[0,-88,.7],[40,-87,.65],[70,-86,.75]];

const panels = [
  {omega: omegaLabels[0], pts: p1Points, grey: p1Grey},
  {omega: omegaLabels[1], pts: p2Points, grey: p2Grey},
  {omega: omegaLabels[2], pts: p3Points, grey: p3Grey}
];

// ---------------- layout ----------------
const CX = 425.5, CY = [221.5, 597.3, 973.2], HALF_W = 313.5;
const serif = "'Liberation Serif','Times New Roman',serif";
const sans = "'DejaVu Sans',sans-serif";

function mollweideRaw(lambda, phi) {
  let theta;
  if (Math.abs(phi) >= Math.PI / 2 - 1e-10) theta = Math.sign(phi) * Math.PI / 2;
  else {
    const cp = Math.PI * Math.sin(phi);
    let t = phi, d, i = 50;
    do { d = (t + Math.sin(t) - cp) / (1 + Math.cos(t)); t -= d; } while (Math.abs(d) > 1e-10 && --i > 0);
    theta = t / 2;
  }
  return [2 * Math.SQRT2 / Math.PI * lambda * Math.cos(theta), Math.SQRT2 * Math.sin(theta)];
}

const color = d3.scaleSequential(d3.interpolatePlasma).domain([0, tMax]);
const greyColor = d3.scaleLinear().domain([0, 1]).range(["#000000", "#ffffff"]);
const rScale = d3.scaleLinear().domain([1, 2.2, 3.3]).range([2.4, 3.8, 5.7]);

const svg = d3.select("#chart");
svg.append("rect").attr("width", 830).attr("height", 1292).attr("fill", "#fff");

panels.forEach((p, i) => {
  const cy = CY[i];
  const proj = d3.geoProjection(mollweideRaw)
    .scale(HALF_W / (2 * Math.SQRT2)).translate([CX, cy]).precision(0.1);
  const path = d3.geoPath(proj);
  const sphere = path({type: "Sphere"});
  const g = svg.append("g");
  g.append("clipPath").attr("id", "clip" + i).append("path").attr("d", sphere);
  const pg = g.append("g").attr("clip-path", `url(#clip${i})`);
  pg.selectAll("circle.pt").data(p.pts).join("circle").attr("class", "pt")
    .attr("cx", d => proj([d[0], d[1]])[0])
    .attr("cy", d => proj([d[0], d[1]])[1])
    .attr("r", d => rScale(d[3]))
    .attr("fill", d => color(d[2]));
  pg.selectAll("circle.gr").data(p.grey).join("circle").attr("class", "gr")
    .attr("cx", d => proj([d[0], d[1]])[0])
    .attr("cy", d => proj([d[0], d[1]])[1])
    .attr("r", rScale(3.3))
    .attr("fill", d => greyColor(d[2]));
  g.append("path").attr("d", sphere).attr("fill", "none").attr("stroke", "#000").attr("stroke-width", 2.2);

  // longitude labels
  g.selectAll("text.lon").data(lonTicks).join("text").attr("class", "lon")
    .attr("x", d => proj([d, 0])[0]).attr("y", cy - 9)
    .attr("text-anchor", "middle").attr("font-family", serif).attr("font-weight", "bold")
    .attr("font-size", 18.5).text(d => d + "°");
  // latitude labels
  g.selectAll("text.lat").data(latTicks).join("text").attr("class", "lat")
    .attr("x", d => proj([-180, d])[0] - 10)
    .attr("y", d => proj([-180, d])[1] - 0.18 * d - 1.5)
    .attr("dominant-baseline", "central")
    .attr("text-anchor", "end").attr("font-family", serif).attr("font-weight", "bold")
    .attr("font-size", 18.5).text(d => d + "°");

  // title
  const t = g.append("text").attr("x", CX + 1).attr("y", cy - 180).attr("text-anchor", "middle");
  t.append("tspan").attr("font-family", sans).attr("font-style", "italic").attr("font-size", 34).text("ω");
  t.append("tspan").attr("font-family", sans).attr("font-size", 34).text(" = " + p.omega + " ");
  t.append("tspan").attr("font-family", serif).attr("font-weight", "bold").attr("font-size", 37).text("rad/s");
});

// ---------------- colorbar ----------------
const cbX = d3.scaleLinear().domain([0, tMax]).range([41, 791]);
const cbY0 = 1188.5, cbH = 38;
const defs = svg.append("defs");
const grad = defs.append("linearGradient").attr("id", "cbgrad").attr("x1", "0%").attr("x2", "100%");
d3.range(0, 1.0001, 0.05).forEach(f => {
  grad.append("stop").attr("offset", (f * 100) + "%").attr("stop-color", d3.interpolatePlasma(f));
});
svg.append("rect").attr("x", cbX(0)).attr("y", cbY0).attr("width", cbX(tMax) - cbX(0)).attr("height", cbH)
  .attr("fill", "url(#cbgrad)").attr("stroke", "#000").attr("stroke-width", 2.2);
const minor = d3.range(0, tMax + 1e-9, 0.02);
svg.selectAll("line.minor").data(minor).join("line").attr("class", "minor")
  .attr("x1", d => cbX(d)).attr("x2", d => cbX(d))
  .attr("y1", cbY0 + cbH + 1).attr("y2", cbY0 + cbH + 4)
  .attr("stroke", "#000").attr("stroke-width", 1.3);
svg.selectAll("line.major").data(cbarTicks).join("line").attr("class", "major")
  .attr("x1", d => cbX(d)).attr("x2", d => cbX(d))
  .attr("y1", cbY0 + cbH + 1).attr("y2", cbY0 + cbH + 6)
  .attr("stroke", "#000").attr("stroke-width", 1.5);
svg.selectAll("text.cbt").data(cbarTicks).join("text").attr("class", "cbt")
  .attr("x", d => cbX(d)).attr("y", 1249)
  .attr("text-anchor", "middle").attr("font-family", serif).attr("font-weight", "bold")
  .attr("font-size", 17).text(d => d.toFixed(1));
const lab = svg.append("text").attr("x", 416).attr("y", 1274).attr("text-anchor", "middle");
lab.append("tspan").attr("font-family", sans).attr("font-style", "italic").attr("font-size", 25).text("t");
lab.append("tspan").attr("font-family", sans).attr("font-size", 17).attr("dy", 5).text("pb");
lab.append("tspan").attr("font-family", serif).attr("font-weight", "bold").attr("font-size", 24).attr("dy", -5).text(" [s]");
</script>
</body></html>
